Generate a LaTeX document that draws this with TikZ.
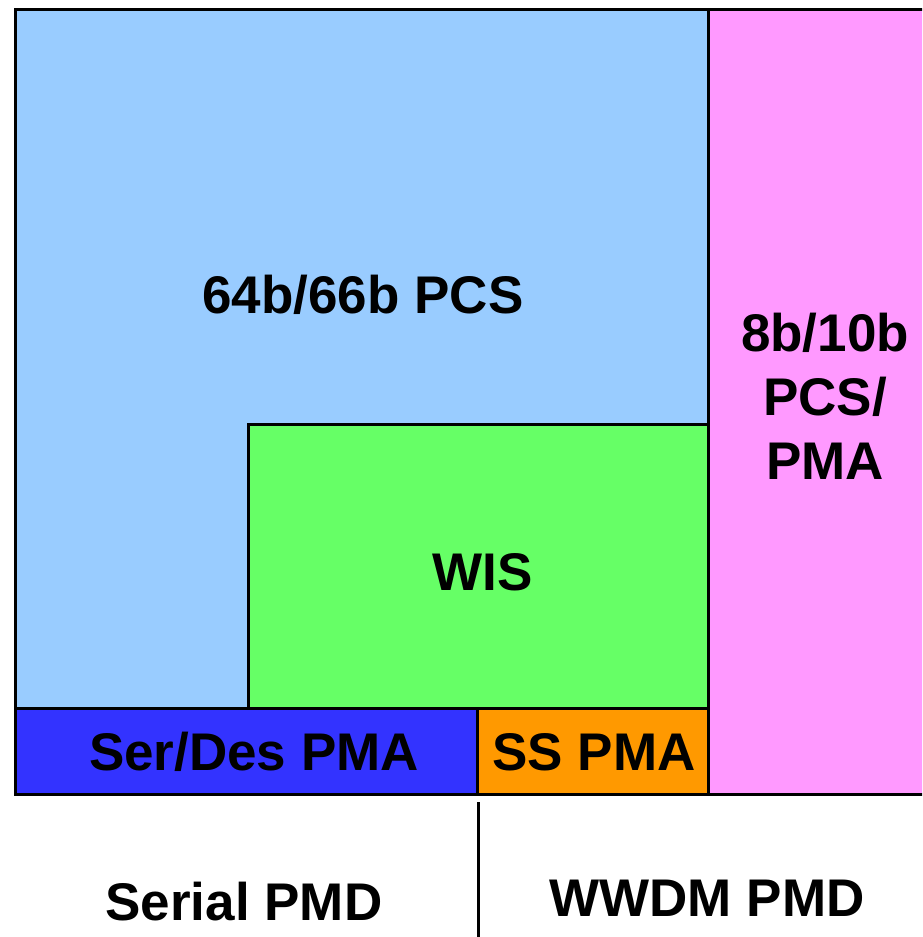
\documentclass[tikz,border=0pt]{standalone}
\usepackage{fontspec}
\setmainfont{Liberation Sans}
\definecolor{pcsblue}{HTML}{99CCFF}
\definecolor{pcspink}{HTML}{FF99FF}
\definecolor{wisgreen}{HTML}{66FF66}
\definecolor{serblue}{HTML}{3333FF}
\definecolor{ssorange}{HTML}{FF9900}
\begin{document}
\begin{tikzpicture}[x=1pt,y=-1pt,
  block/.style={draw=black,line width=3pt},
  lbl/.style={font=\fontsize{53}{64}\selectfont\bfseries,anchor=base,inner sep=0pt,align=center}]
\useasboundingbox (0,0) rectangle (922,937);
\begin{scope}
\clip (0,0) rectangle (922,937);
\filldraw[block,fill=pcsblue] (15,9) rectangle (708,708);
\filldraw[block,fill=pcspink] (708,9) rectangle (950,794);
\filldraw[block,fill=wisgreen] (248,424) rectangle (708,708);
\filldraw[block,fill=serblue] (15,708) rectangle (477,794);
\filldraw[block,fill=ssorange] (477,708) rectangle (708,794);
\end{scope}
\node[lbl] (pcs) at (363,313) {64b/66b PCS};
\node[lbl] (wis) at (483,590) {WIS};
\node[lbl] (ser) at (254,770) {Ser/Des PMA};
\node[lbl] (ss) at (594,770) {SS PMA};
\node[lbl] (p1) at (825,351) {8b/10b};
\node[lbl] (p2) at (825,415) {PCS/};
\node[lbl] (p3) at (825,479) {PMA};
\node[lbl] (spmd) at (244,920) {Serial PMD};
\node[lbl] (wpmd) at (707,916) {WWDM PMD};
\coordinate (dtop) at (478,802);
\coordinate (dbot) at (478,937);
\draw[line width=3pt] (dtop) -- (dbot);
\end{tikzpicture}
\end{document}
